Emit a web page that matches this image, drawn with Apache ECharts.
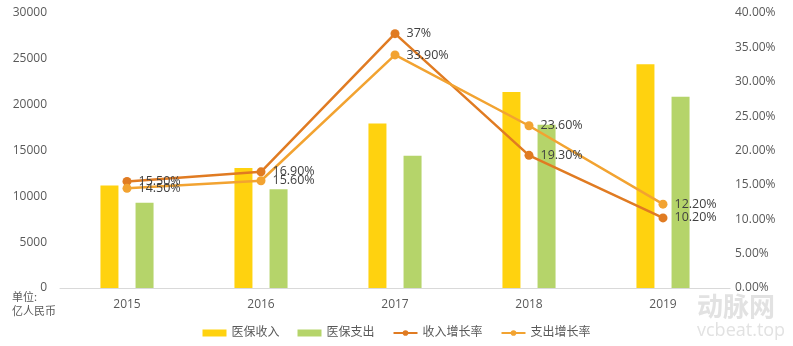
<!DOCTYPE html>
<html><head><meta charset="utf-8">
<script src="https://cdn.jsdelivr.net/npm/echarts@6/dist/echarts.min.js"></script>
<style>html,body{margin:0;padding:0;background:#fff}#c{width:793px;height:346px}</style>
</head><body><div id="c"></div>
<script>
var years = ['2015','2016','2017','2018','2019'];
var income = [11193, 13084, 17932, 21384, 24421];
var expense = [9312, 10767, 14422, 17822, 20854];
var incomeGrowth = [15.5, 16.9, 37, 19.3, 10.2];
var expenseGrowth = [14.5, 15.6, 33.9, 23.6, 12.2];
var incomeGrowthLabels = ['15.50%','16.90%','37%','19.30%','10.20%'];
var expenseGrowthLabels = ['14.50%','15.60%','33.90%','23.60%','12.20%'];
var FONT = '"Open Sans","Noto Sans CJK SC",sans-serif';
var chart = echarts.init(document.getElementById('c'), null, {renderer:'canvas'});
chart.setOption({
  animation:false,
  textStyle:{fontFamily:FONT},
  grid:{left:60,right:63,top:13,bottom:58,containLabel:false},
  legend:{
    bottom:2,left:'center',itemWidth:24,itemHeight:7,itemGap:18,
    textStyle:{color:'#595959',fontSize:12,fontFamily:FONT},
    data:[{name:'医保收入',icon:'rect'},{name:'医保支出',icon:'rect'},{name:'收入增长率'},{name:'支出增长率'}]
  },
  xAxis:{type:'category',data:years,
    axisLine:{lineStyle:{color:'#d9d9d9',width:1}},axisTick:{show:false},
    axisLabel:{color:'#595959',fontSize:12,margin:11,fontFamily:FONT}},
  yAxis:[
    {type:'value',min:0,max:30000,interval:5000,splitLine:{show:false},axisLine:{show:false},axisTick:{show:false},
     axisLabel:{color:'#595959',fontSize:12,margin:13,fontFamily:FONT,formatter:function(v){return String(v);}}},
    {type:'value',min:0,max:40,interval:5,splitLine:{show:false},axisLine:{show:false},axisTick:{show:false},
     axisLabel:{color:'#595959',fontSize:12,margin:5,fontFamily:FONT,formatter:function(v){return v.toFixed(2)+'%';}}}
  ],
  series:[
    {name:'医保收入',type:'bar',data:income,barWidth:18,barGap:'95%',itemStyle:{color:'#FFD20F'}},
    {name:'医保支出',type:'bar',data:expense,barWidth:18,barGap:'95%',itemStyle:{color:'#B5D46A'}},
    {name:'收入增长率',type:'line',yAxisIndex:1,data:incomeGrowth,symbol:'circle',symbolSize:9,
     lineStyle:{color:'#E07B22',width:2.5},itemStyle:{color:'#E07B22'},
     label:{show:true,position:'right',distance:7,color:'#404040',fontSize:12.5,fontFamily:FONT,
       formatter:function(p){return incomeGrowthLabels[p.dataIndex];}}},
    {name:'支出增长率',type:'line',yAxisIndex:1,data:expenseGrowth,symbol:'circle',symbolSize:9,
     lineStyle:{color:'#F2A331',width:2.5},itemStyle:{color:'#F2A331'},
     label:{show:true,position:'right',distance:7,color:'#404040',fontSize:12.5,fontFamily:FONT,
       formatter:function(p){return expenseGrowthLabels[p.dataIndex];}}}
  ],
  graphic:[
    {type:'text',left:12,top:290,style:{text:'单位:\n亿人民币',fill:'#595959',fontSize:11,lineHeight:14,fontFamily:'"Noto Sans CJK SC",sans-serif'}},
    {type:'text',left:697,top:293,style:{text:'动脉网',fill:'#e2e2e2',fontSize:26,fontWeight:'bold',fontFamily:'"Noto Sans CJK SC",sans-serif'}},
    {type:'text',left:697,top:322,style:{text:'vcbeat.top',fill:'#e2e2e2',fontSize:18,fontFamily:FONT}}
  ]
});
</script></body></html>
